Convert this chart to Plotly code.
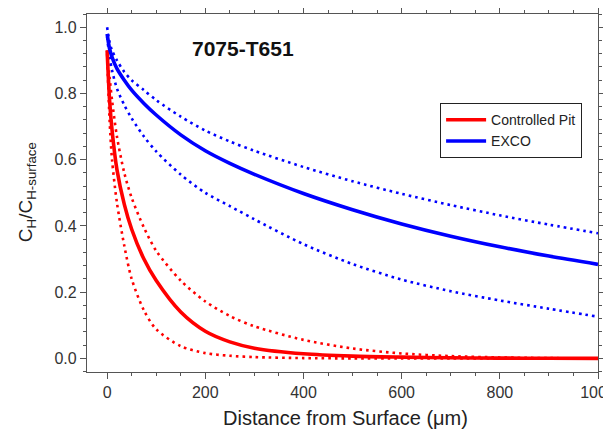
"""Hydrogen concentration profiles for 7075-T651 (Controlled Pit vs EXCO)."""

import plotly.graph_objects as go

# distance from surface (um), shared grid the values were read at
DISTANCE_UM = [0, 5, 10, 20, 35, 50, 75, 100, 150, 200, 250, 300, 400, 500, 600, 700, 800, 900, 1000]

# Controlled Pit: fit and bounds
PIT_FIT = [0.93, 0.78, 0.69, 0.57, 0.465, 0.39, 0.30, 0.235, 0.14, 0.082, 0.05, 0.031,
           0.014, 0.007, 0.004, 0.002, 0.001, 0.0005, 0.0]
PIT_UPPER = [0.93, 0.85, 0.78, 0.67, 0.56, 0.485, 0.395, 0.325, 0.235, 0.172, 0.128,
             0.097, 0.056, 0.03, 0.015, 0.007, 0.003, 0.001, 0.0]
PIT_LOWER = [0.92, 0.72, 0.60, 0.47, 0.34, 0.24, 0.145, 0.088, 0.037, 0.016, 0.008,
             0.004, 0.001, 0.0, 0.0, 0.0, 0.0, 0.0, 0.0]

# EXCO: fit and bounds
EXCO_FIT = [0.98, 0.935, 0.91, 0.875, 0.84, 0.81, 0.77, 0.735, 0.675, 0.627, 0.589,
            0.556, 0.498, 0.449, 0.406, 0.369, 0.337, 0.309, 0.284]
EXCO_UPPER = [1.0, 0.955, 0.93, 0.90, 0.865, 0.84, 0.81, 0.78, 0.73, 0.688, 0.655,
              0.627, 0.578, 0.535, 0.497, 0.463, 0.432, 0.404, 0.378]
EXCO_LOWER = [0.97, 0.91, 0.87, 0.815, 0.765, 0.725, 0.67, 0.625, 0.555, 0.50, 0.46,
              0.42, 0.345, 0.285, 0.238, 0.203, 0.175, 0.15, 0.126]

X_TICKS = [0, 200, 400, 600, 800, 1000]
Y_TICKS = [0.0, 0.2, 0.4, 0.6, 0.8, 1.0]

RED = "#ff0000"
BLUE = "#0000ff"
AXIS_COLOR = "#555555"
FONT = "Liberation Sans, Arial"

fig = go.Figure()


def add_bound(values, color):
    fig.add_trace(
        go.Scatter(
            x=DISTANCE_UM,
            y=values,
            mode="lines",
            line={"color": color, "width": 2.6, "dash": "2.6px,4px", "shape": "spline", "smoothing": 0.8},
            showlegend=False,
            hoverinfo="skip",
        )
    )


add_bound(PIT_UPPER, RED)
add_bound(PIT_LOWER, RED)
add_bound(EXCO_UPPER, BLUE)
add_bound(EXCO_LOWER, BLUE)

fig.add_trace(
    go.Scatter(
        x=DISTANCE_UM, y=PIT_FIT, mode="lines", name="Controlled Pit",
        line={"color": RED, "width": 3.6, "shape": "spline", "smoothing": 0.8},
    )
)
fig.add_trace(
    go.Scatter(
        x=DISTANCE_UM, y=EXCO_FIT, mode="lines", name="EXCO",
        line={"color": BLUE, "width": 3.6, "shape": "spline", "smoothing": 0.8},
    )
)

fig.add_annotation(
    text="<b>7075-T651</b>", xref="paper", yref="paper", x=0.305, y=0.905,
    xanchor="center", yanchor="middle",
    showarrow=False, font={"size": 21, "color": "#111111", "family": FONT},
)

# axis titles as annotations so they sit at fixed spots
fig.add_annotation(
    text="Distance from Surface (\u03bcm)", xref="paper", yref="paper", x=0.505, y=-0.128,
    xanchor="center", yanchor="middle", showarrow=False,
    font={"size": 20, "color": "#222222", "family": FONT},
)
fig.add_annotation(
    text="C<sub>H</sub>/C<sub>H-surface</sub>", xref="paper", yref="paper", x=-0.117, y=0.503,
    xanchor="center", yanchor="middle", textangle=-90, showarrow=False,
    font={"size": 19, "color": "#222222", "family": FONT},
)

# the page body has an 8px margin; the figure runs a little past the window on the
# right so the "1000" label gets cut at the edge like the original
fig.update_layout(
    width=611,
    height=422,
    paper_bgcolor="white",
    plot_bgcolor="white",
    margin={"l": 79, "r": 21, "t": 6, "b": 58, "autoexpand": False},
    font={"family": FONT, "color": "#333333", "size": 16},
    legend={
        "x": 0.691, "y": 0.751, "xanchor": "left", "yanchor": "top",
        "bgcolor": "white", "bordercolor": "#222222", "borderwidth": 1,
        "font": {"size": 14, "color": "#222222"},
        "tracegroupgap": 0, "itemwidth": 40,
    },
)

axis_common = dict(
    showline=True, linecolor=AXIS_COLOR, linewidth=1.2, mirror="allticks",
    ticks="outside", ticklen=6, tickwidth=1.2, tickcolor=AXIS_COLOR,
    showgrid=False, zeroline=False, automargin=False,
    tickfont={"size": 16, "color": "#333333"},
)

fig.update_xaxes(
    range=[-41, 1000], tickvals=X_TICKS, ticklabeloverflow="allow",
    minor={"dtick": 50, "ticks": "outside", "ticklen": 3, "tickcolor": AXIS_COLOR, "tickwidth": 1},
    **axis_common,
)
fig.update_yaxes(
    range=[-0.041, 1.04], tickvals=Y_TICKS, tickformat=".1f",
    minor={"dtick": 0.04, "tick0": 0, "ticks": "outside", "ticklen": 3, "tickcolor": AXIS_COLOR, "tickwidth": 1},
    **axis_common,
)

fig.write_html("out.html")
